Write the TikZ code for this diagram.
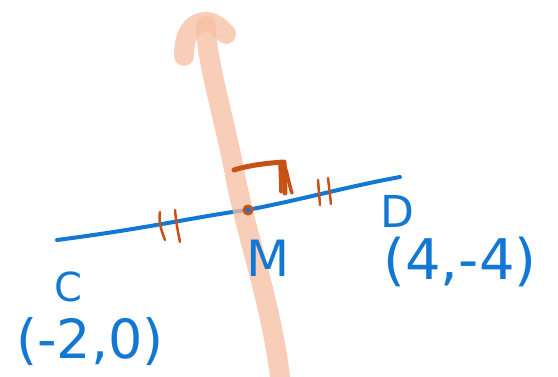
\documentclass[tikz,border=0pt]{standalone}
\usepackage{fontspec}
\setmainfont{DejaVu Sans}
\definecolor{inkblue}{RGB}{18,120,212}
\definecolor{peach}{RGB}{247,190,162}
\definecolor{rust}{RGB}{198,82,22}
\tikzset{
  pen/.style={line width=4pt, line cap=round, line join=round, inkblue},
  marker/.style={line width=20pt, line cap=round, line join=round, peach, opacity=0.75},
  rustpen/.style={line width=3.5pt, line cap=round, line join=round, rust},
  lbl/.style={inkblue, inner sep=0pt}
}
\begin{document}
\begin{tikzpicture}[x=1pt, y=-1pt, thick]
  \useasboundingbox (0,0) rectangle (558,376);

  % -- Segment CD --
  \draw[pen] (57,240) .. controls (150,228) and (200,216) .. (247,210)
             .. controls (300,200) and (350,186) .. (400,177);

  % -- Perpendicular bisector --
  \draw[marker] (184,56) .. controls (184,30) and (195,22) .. (206,22)
                .. controls (215,22) and (220,28) .. (226,34);
  \draw[marker] (206,26) .. controls (206,60) and (225,120) .. (236,180)
                .. controls (248,240) and (270,300) .. (280,376);

  % -- Right angle mark --
  \draw[rustpen, line width=5pt] (234,170) .. controls (250,165) and (268,163) .. (284,162)
                 -- (285,193);
  \draw[rustpen] (280,163) -- (281,192);
  \draw[rustpen] (284,164) .. controls (288,175) and (289,185) .. (292,193);

  % -- Congruence ticks --
  \draw[rustpen, line width=2.5pt] (160,212) .. controls (158,222) and (162,232) .. (165,240);
  \draw[rustpen, line width=2.5pt] (175,210) .. controls (176,222) and (178,232) .. (180,242);
  \draw[rustpen, line width=2.5pt] (318,180) -- (320,205);
  \draw[rustpen, line width=2.5pt] (328,178) -- (331,204);

  % -- Midpoint --
  \draw[rustpen, line width=3pt] (248,210) circle (4);
  \fill[inkblue] (248,210) circle (2.5);

  % -- Labels --
  \node[lbl, font=\fontsize{50}{50}\selectfont] (mlbl) at (268,258) {M};
  \node[lbl, font=\fontsize{40}{40}\selectfont] (clbl) at (68,287) {C};
  \node[lbl, font=\fontsize{54}{54}\selectfont] (cpt) at (90,342) {(-2,0)};
  \node[lbl, font=\fontsize{44}{44}\selectfont] (dlbl) at (397,211) {D};
  \node[lbl, font=\fontsize{56}{56}\selectfont] (dpt) at (460,262) {(4,-4)};

\end{tikzpicture}
\end{document}
